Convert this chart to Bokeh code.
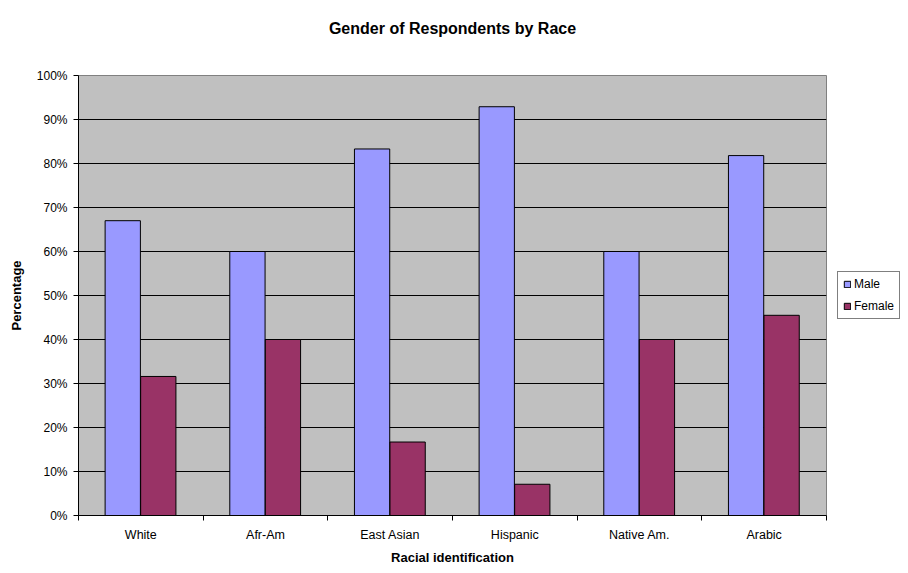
from bokeh.plotting import figure
from bokeh.models import (ColumnDataSource, FixedTicker, NumeralTickFormatter,
                          Legend, LegendItem, Range1d, Title)
from bokeh.embed import file_html
from bokeh.resources import INLINE
import numpy as np

categories = ["White", "Afr-Am", "East Asian", "Hispanic", "Native Am.", "Arabic"]
male = [0.67, 0.60, 0.833, 0.929, 0.60, 0.818]
female = [0.316, 0.40, 0.167, 0.071, 0.40, 0.455]
y_ticks = [0.0, 0.1, 0.2, 0.3, 0.4, 0.5, 0.6, 0.7, 0.8, 0.9, 1.0]
title_text = "Gender of Respondents by Race"

FONT = "Liberation Sans"
MALE_C = "#9999FF"
FEMALE_C = "#993366"

centers = np.arange(len(categories)) + 0.5
src = ColumnDataSource(dict(
    xm=centers - 0.145, xf=centers + 0.14,
    male=male, female=female, cat=categories))

p = figure(width=900, height=565, frame_width=748, frame_height=440,
           output_backend="svg", toolbar_location=None, title=None,
           x_range=Range1d(0, len(categories)), y_range=Range1d(0, 1),
           min_border_left=78, min_border_right=0, min_border_top=75,
           min_border_bottom=0, background_fill_color="#C0C0C0",
           border_fill_color="white", outline_line_color="#808080")

xa = p.below[0]
ya = p.left[0]

# blank spacer title between frame and the real title
spacer = Title(text=" ", text_font=FONT, text_font_size="16px", standoff=15)
p.add_layout(spacer, "above")

title = Title(text=title_text, text_font=FONT, text_font_size="16px",
              text_font_style="bold", text_color="black", align="center",
              standoff=10)
p.add_layout(title, "above")

rm = p.vbar(x="xm", top="male", width=0.283, source=src, fill_color=MALE_C,
            line_color="black", line_width=1)
rf = p.vbar(x="xf", top="female", width=0.283, source=src, fill_color=FEMALE_C,
            line_color="black", line_width=1)

# x axis
xa.ticker = FixedTicker(ticks=list(centers), minor_ticks=list(range(len(categories) + 1)))
xa.major_label_overrides = {float(c): cat for c, cat in zip(centers, categories)}
xa.major_tick_out = 0
xa.major_tick_in = 0
xa.minor_tick_out = 5
xa.minor_tick_in = 0
xa.minor_tick_line_color = "black"
xa.axis_line_color = "black"
xa.major_label_text_font = FONT
xa.major_label_text_font_size = "12.5px"
xa.major_label_text_color = "black"
xa.major_label_standoff = 7
xa.axis_label = "Racial identification"
xa.axis_label_text_font = FONT
xa.axis_label_text_font_size = "13px"
xa.axis_label_text_font_style = "bold"
xa.axis_label_text_color = "black"
xa.axis_label_standoff = 5

# y axis
ya.ticker = FixedTicker(ticks=y_ticks)
ya.formatter = NumeralTickFormatter(format="0%")
ya.major_tick_out = 5
ya.major_tick_in = 0
ya.major_tick_line_color = "black"
ya.minor_tick_line_color = None
ya.axis_line_color = "black"
ya.major_label_text_font = FONT
ya.major_label_text_font_size = "12px"
ya.major_label_text_color = "black"
ya.major_label_standoff = 6
ya.axis_label = "Percentage"
ya.axis_label_text_font = FONT
ya.axis_label_text_font_size = "13px"
ya.axis_label_text_font_style = "bold"
ya.axis_label_text_color = "black"
ya.axis_label_standoff = 10

p.xgrid.grid_line_color = None
p.ygrid.ticker = FixedTicker(ticks=y_ticks[1:-1])
p.ygrid.grid_line_color = "black"
p.ygrid.grid_line_alpha = 1.0

legend = Legend(items=[LegendItem(label="Male", renderers=[rm]),
                       LegendItem(label="Female", renderers=[rf])],
                location=(11, 196))
legend.border_line_color = "black"
legend.border_line_width = 1
legend.background_fill_color = "white"
legend.background_fill_alpha = 1.0
legend.label_text_font = FONT
legend.label_text_font_size = "12px"
legend.label_text_color = "black"
legend.label_width = 30
legend.glyph_width = 8
legend.glyph_height = 8
legend.label_standoff = 3
legend.spacing = 8
legend.padding = 5
legend.margin = 0
legend.label_height = 12
p.add_layout(legend, "right")

open("out.html", "w").write(file_html(p, INLINE))
